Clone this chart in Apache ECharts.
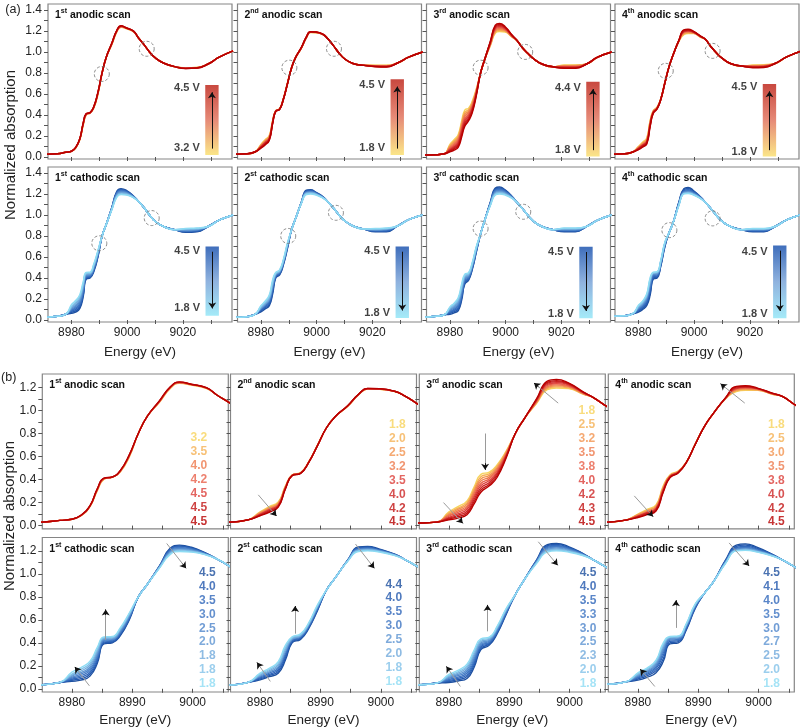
<!DOCTYPE html>
<html><head><meta charset="utf-8">
<script src="https://cdn.jsdelivr.net/npm/echarts@6/dist/echarts.min.js"></script>
<style>html,body{margin:0;padding:0;background:#fff}#c{width:800px;height:728px}</style>
</head><body><div id="c"></div>
<script>
// ---------------- DATA ----------------
const ENERGY = [8970, 8975, 8978, 8980, 8981.5, 8983, 8984.2, 8985.3, 8986.7, 8988, 8989.5, 8991, 8992.5, 8994.5, 8996.3, 8997.8, 8999.8, 9002.3, 9004, 9006, 9008, 9010, 9013, 9017, 9021, 9025, 9029, 9033, 9038];
// positions in ENERGY where all curves of a scan coincide / where they differ
const COMMON_IDX = [0, 1, 2, 11, 12, 18, 19, 20, 21, 22, 23, 26, 27, 28];
const VARY_IDX = [3, 4, 5, 6, 7, 8, 9, 10, 13, 14, 15, 16, 17, 24, 25];

// 1st anodic scan
const A1_VOLTS = ['3.2', '3.5', '4.0', '4.2', '4.5', '4.5', '4.5'];
const A1_COMMON = [0.025, 0.03, 0.045, 0.80, 0.95, 1.135, 1.07, 1.0, 0.945, 0.895, 0.86, 0.885, 0.95, 1.01];
const A1_CURVES = [
  [0.055, 0.085, 0.165, 0.300, 0.400, 0.420, 0.465, 0.595, 1.070, 1.190, 1.235, 1.220, 1.190, 0.848, 0.852],
  [0.055, 0.086, 0.167, 0.305, 0.403, 0.420, 0.468, 0.600, 1.073, 1.195, 1.238, 1.222, 1.192, 0.847, 0.851],
  [0.055, 0.087, 0.168, 0.310, 0.405, 0.420, 0.470, 0.605, 1.076, 1.198, 1.240, 1.224, 1.194, 0.846, 0.850],
  [0.055, 0.088, 0.170, 0.312, 0.407, 0.421, 0.472, 0.608, 1.078, 1.200, 1.242, 1.225, 1.195, 0.845, 0.849],
  [0.055, 0.088, 0.171, 0.315, 0.410, 0.422, 0.474, 0.610, 1.080, 1.202, 1.244, 1.226, 1.196, 0.844, 0.848],
  [0.055, 0.089, 0.172, 0.317, 0.411, 0.422, 0.476, 0.612, 1.082, 1.204, 1.246, 1.227, 1.197, 0.843, 0.847],
  [0.055, 0.090, 0.173, 0.320, 0.412, 0.423, 0.478, 0.615, 1.085, 1.206, 1.248, 1.228, 1.198, 0.842, 0.846]
];
// 2nd anodic scan
const A2_VOLTS = ['1.8', '2.0', '2.5', '3.2', '3.5', '4.0', '4.2', '4.5'];
const A2_COMMON = [0.025, 0.03, 0.05, 0.85, 0.95, 1.125, 1.06, 0.99, 0.935, 0.89, 0.872, 0.895, 0.95, 1.0];
const A2_CURVES = [
  [0.120, 0.165, 0.205, 0.345, 0.440, 0.460, 0.550, 0.700, 1.035, 1.135, 1.185, 1.183, 1.165, 0.873, 0.873],
  [0.115, 0.158, 0.198, 0.342, 0.439, 0.459, 0.549, 0.699, 1.036, 1.136, 1.186, 1.184, 1.165, 0.871, 0.871],
  [0.110, 0.152, 0.192, 0.338, 0.438, 0.458, 0.548, 0.698, 1.037, 1.137, 1.187, 1.185, 1.165, 0.869, 0.869],
  [0.104, 0.145, 0.185, 0.334, 0.437, 0.457, 0.547, 0.697, 1.038, 1.138, 1.188, 1.186, 1.166, 0.867, 0.866],
  [0.099, 0.138, 0.178, 0.330, 0.436, 0.456, 0.546, 0.696, 1.039, 1.139, 1.189, 1.187, 1.166, 0.865, 0.864],
  [0.094, 0.130, 0.171, 0.326, 0.435, 0.455, 0.545, 0.695, 1.040, 1.140, 1.190, 1.188, 1.166, 0.863, 0.861],
  [0.089, 0.122, 0.165, 0.322, 0.434, 0.454, 0.544, 0.694, 1.041, 1.141, 1.191, 1.189, 1.167, 0.861, 0.859],
  [0.085, 0.115, 0.160, 0.318, 0.433, 0.453, 0.543, 0.693, 1.042, 1.142, 1.192, 1.190, 1.167, 0.860, 0.856]
];
// 3rd anodic scan
const A3_VOLTS = ['1.8', '2.5', '3.2', '3.5', '3.8', '4.0', '4.2', '4.3', '4.5'];
const A3_COMMON = [0.02, 0.022, 0.03, 0.80, 0.93, 1.11, 1.04, 0.985, 0.935, 0.885, 0.858, 0.885, 0.95, 1.0];
const A3_CURVES = [
  [0.120, 0.165, 0.215, 0.340, 0.445, 0.465, 0.530, 0.650, 1.060, 1.180, 1.195, 1.190, 1.140, 0.875, 0.876],
  [0.110, 0.152, 0.200, 0.322, 0.425, 0.450, 0.517, 0.643, 1.065, 1.190, 1.205, 1.196, 1.142, 0.871, 0.872],
  [0.100, 0.140, 0.186, 0.305, 0.405, 0.436, 0.503, 0.635, 1.070, 1.199, 1.214, 1.203, 1.145, 0.868, 0.868],
  [0.090, 0.127, 0.171, 0.287, 0.386, 0.421, 0.490, 0.628, 1.075, 1.208, 1.223, 1.209, 1.147, 0.864, 0.864],
  [0.081, 0.114, 0.157, 0.268, 0.366, 0.406, 0.477, 0.620, 1.080, 1.217, 1.232, 1.215, 1.150, 0.860, 0.860],
  [0.072, 0.101, 0.142, 0.250, 0.347, 0.391, 0.463, 0.613, 1.085, 1.226, 1.241, 1.222, 1.152, 0.856, 0.856],
  [0.064, 0.089, 0.125, 0.230, 0.327, 0.375, 0.449, 0.606, 1.090, 1.236, 1.251, 1.229, 1.155, 0.852, 0.852],
  [0.057, 0.077, 0.110, 0.210, 0.308, 0.360, 0.435, 0.598, 1.095, 1.245, 1.260, 1.235, 1.157, 0.848, 0.848],
  [0.050, 0.065, 0.095, 0.190, 0.290, 0.345, 0.420, 0.590, 1.100, 1.255, 1.270, 1.240, 1.160, 0.845, 0.845]
];
// 4th anodic scan
const A4_VOLTS = ['1.8', '2.5', '3.0', '3.5', '3.8', '4.0', '4.2', '4.5'];
const A4_COMMON = [0.025, 0.03, 0.048, 0.86, 0.975, 1.12, 1.05, 0.99, 0.94, 0.89, 0.865, 0.89, 0.95, 1.005];
const A4_CURVES = [
  [0.100, 0.140, 0.180, 0.345, 0.440, 0.475, 0.550, 0.710, 1.100, 1.165, 1.175, 1.175, 1.140, 0.875, 0.878],
  [0.096, 0.133, 0.172, 0.337, 0.436, 0.473, 0.549, 0.709, 1.101, 1.171, 1.181, 1.178, 1.141, 0.871, 0.874],
  [0.092, 0.127, 0.164, 0.329, 0.433, 0.470, 0.549, 0.709, 1.103, 1.178, 1.186, 1.181, 1.143, 0.868, 0.871],
  [0.088, 0.120, 0.156, 0.321, 0.429, 0.468, 0.548, 0.708, 1.104, 1.184, 1.192, 1.184, 1.144, 0.864, 0.867],
  [0.083, 0.114, 0.149, 0.313, 0.426, 0.465, 0.547, 0.707, 1.106, 1.191, 1.198, 1.187, 1.146, 0.861, 0.863],
  [0.079, 0.108, 0.141, 0.305, 0.422, 0.463, 0.547, 0.707, 1.107, 1.197, 1.203, 1.190, 1.147, 0.857, 0.860],
  [0.074, 0.101, 0.133, 0.297, 0.419, 0.460, 0.546, 0.706, 1.109, 1.204, 1.209, 1.192, 1.149, 0.854, 0.856],
  [0.070, 0.095, 0.125, 0.290, 0.415, 0.458, 0.545, 0.705, 1.110, 1.210, 1.215, 1.195, 1.150, 0.850, 0.852]
];
// 1st cathodic scan
const C1_VOLTS = ['4.5', '4.0', '3.5', '3.0', '2.5', '2.0', '1.8', '1.8', '1.8'];
const C1_COMMON = [0.025, 0.035, 0.055, 0.80, 0.91, 1.13, 1.07, 1.0, 0.94, 0.89, 0.86, 0.89, 0.95, 1.0];
const C1_CURVES = [
  [0.065, 0.075, 0.110, 0.220, 0.390, 0.400, 0.460, 0.600, 1.070, 1.225, 1.250, 1.232, 1.178, 0.835, 0.840],
  [0.074, 0.088, 0.126, 0.237, 0.398, 0.407, 0.469, 0.607, 1.068, 1.218, 1.243, 1.227, 1.176, 0.839, 0.844],
  [0.083, 0.101, 0.142, 0.255, 0.406, 0.414, 0.478, 0.615, 1.065, 1.212, 1.237, 1.222, 1.174, 0.844, 0.849],
  [0.092, 0.115, 0.158, 0.272, 0.414, 0.421, 0.486, 0.622, 1.063, 1.205, 1.230, 1.217, 1.172, 0.848, 0.853],
  [0.101, 0.128, 0.174, 0.290, 0.421, 0.428, 0.495, 0.630, 1.061, 1.198, 1.223, 1.212, 1.171, 0.852, 0.857],
  [0.110, 0.141, 0.190, 0.307, 0.429, 0.434, 0.504, 0.637, 1.059, 1.191, 1.216, 1.206, 1.169, 0.857, 0.862],
  [0.119, 0.155, 0.207, 0.325, 0.437, 0.441, 0.512, 0.645, 1.056, 1.184, 1.209, 1.201, 1.167, 0.861, 0.866],
  [0.128, 0.170, 0.223, 0.342, 0.445, 0.448, 0.521, 0.652, 1.053, 1.177, 1.202, 1.195, 1.165, 0.866, 0.871],
  [0.145, 0.185, 0.240, 0.360, 0.452, 0.455, 0.530, 0.660, 1.050, 1.170, 1.195, 1.190, 1.163, 0.870, 0.875]
];
// 2nd cathodic scan (labelled "2st" in the source figure)
const C2_VOLTS = ['4.4', '4.0', '3.5', '3.0', '2.5', '2.0', '1.8', '1.8'];
const C2_COMMON = [0.025, 0.032, 0.056, 0.86, 0.97, 1.125, 1.065, 1.0, 0.945, 0.895, 0.865, 0.895, 0.955, 1.0];
const C2_CURVES = [
  [0.078, 0.105, 0.136, 0.250, 0.400, 0.430, 0.520, 0.680, 1.120, 1.235, 1.240, 1.215, 1.172, 0.840, 0.840],
  [0.086, 0.115, 0.150, 0.269, 0.407, 0.437, 0.527, 0.687, 1.119, 1.229, 1.234, 1.211, 1.170, 0.844, 0.845],
  [0.094, 0.125, 0.165, 0.287, 0.415, 0.444, 0.534, 0.694, 1.117, 1.224, 1.229, 1.208, 1.168, 0.848, 0.850],
  [0.103, 0.136, 0.179, 0.306, 0.422, 0.450, 0.541, 0.701, 1.116, 1.218, 1.223, 1.204, 1.167, 0.853, 0.856],
  [0.111, 0.146, 0.193, 0.324, 0.430, 0.457, 0.549, 0.709, 1.114, 1.212, 1.217, 1.201, 1.165, 0.857, 0.861],
  [0.119, 0.157, 0.208, 0.343, 0.437, 0.464, 0.556, 0.716, 1.113, 1.207, 1.212, 1.197, 1.163, 0.861, 0.866],
  [0.128, 0.168, 0.222, 0.361, 0.445, 0.471, 0.563, 0.723, 1.111, 1.201, 1.206, 1.194, 1.162, 0.866, 0.870],
  [0.136, 0.178, 0.237, 0.380, 0.452, 0.478, 0.570, 0.730, 1.110, 1.195, 1.200, 1.190, 1.160, 0.870, 0.875]
];
// 3rd cathodic scan
const C3_VOLTS = ['4.5', '4.0', '3.5', '3.3', '3.0', '2.5', '2.3', '2.0', '1.8'];
const C3_COMMON = [0.025, 0.035, 0.05, 0.82, 0.95, 1.12, 1.06, 0.995, 0.94, 0.89, 0.86, 0.89, 0.95, 1.0];
const C3_CURVES = [
  [0.055, 0.068, 0.090, 0.190, 0.340, 0.380, 0.480, 0.650, 1.120, 1.255, 1.265, 1.238, 1.175, 0.840, 0.840],
  [0.064, 0.079, 0.106, 0.209, 0.352, 0.389, 0.488, 0.656, 1.116, 1.247, 1.257, 1.232, 1.173, 0.844, 0.844],
  [0.072, 0.091, 0.121, 0.228, 0.364, 0.397, 0.496, 0.663, 1.113, 1.239, 1.249, 1.226, 1.171, 0.849, 0.849],
  [0.081, 0.102, 0.137, 0.246, 0.376, 0.406, 0.505, 0.669, 1.109, 1.231, 1.241, 1.220, 1.169, 0.853, 0.853],
  [0.090, 0.114, 0.152, 0.265, 0.388, 0.415, 0.513, 0.675, 1.105, 1.223, 1.233, 1.214, 1.167, 0.858, 0.858],
  [0.099, 0.125, 0.168, 0.284, 0.399, 0.424, 0.521, 0.681, 1.101, 1.214, 1.224, 1.208, 1.164, 0.862, 0.862],
  [0.108, 0.137, 0.184, 0.302, 0.411, 0.432, 0.529, 0.688, 1.098, 1.206, 1.216, 1.202, 1.162, 0.866, 0.866],
  [0.116, 0.148, 0.199, 0.321, 0.423, 0.441, 0.537, 0.694, 1.094, 1.198, 1.208, 1.196, 1.160, 0.871, 0.871],
  [0.125, 0.160, 0.215, 0.340, 0.435, 0.450, 0.545, 0.700, 1.090, 1.190, 1.200, 1.190, 1.158, 0.875, 0.875]
];
// 4th cathodic scan
const C4_VOLTS = ['4.5', '4.1', '4.0', '3.5', '3.0', '2.7', '2.5', '2.0', '1.8'];
const C4_COMMON = [0.035, 0.04, 0.06, 0.83, 0.93, 1.12, 1.06, 0.995, 0.94, 0.89, 0.86, 0.89, 0.95, 1.0];
const C4_CURVES = [
  [0.075, 0.100, 0.140, 0.237, 0.390, 0.400, 0.510, 0.700, 1.120, 1.250, 1.262, 1.230, 1.170, 0.840, 0.840],
  [0.085, 0.113, 0.158, 0.262, 0.400, 0.410, 0.518, 0.706, 1.115, 1.240, 1.252, 1.223, 1.168, 0.845, 0.845],
  [0.094, 0.125, 0.175, 0.290, 0.412, 0.420, 0.527, 0.712, 1.110, 1.230, 1.240, 1.216, 1.166, 0.850, 0.850],
  [0.102, 0.135, 0.190, 0.313, 0.423, 0.429, 0.535, 0.718, 1.106, 1.222, 1.231, 1.210, 1.164, 0.854, 0.854],
  [0.110, 0.145, 0.203, 0.333, 0.432, 0.437, 0.542, 0.723, 1.102, 1.216, 1.224, 1.205, 1.162, 0.858, 0.858],
  [0.117, 0.153, 0.215, 0.352, 0.439, 0.443, 0.548, 0.728, 1.099, 1.211, 1.218, 1.201, 1.160, 0.861, 0.861],
  [0.124, 0.162, 0.227, 0.369, 0.445, 0.449, 0.554, 0.732, 1.096, 1.207, 1.213, 1.197, 1.158, 0.864, 0.864],
  [0.132, 0.171, 0.238, 0.385, 0.450, 0.455, 0.560, 0.736, 1.093, 1.203, 1.209, 1.193, 1.157, 0.867, 0.867],
  [0.140, 0.180, 0.250, 0.400, 0.455, 0.460, 0.565, 0.740, 1.090, 1.200, 1.205, 1.190, 1.155, 0.870, 0.870]
];

// tick labels
const XLABELS_A = [8980, 9000, 9020];
const XTICKS_A = [8980, 8990, 9000, 9010, 9020, 9030];
const YLABELS_A = [0, 0.2, 0.4, 0.6, 0.8, 1.0, 1.2, 1.4];
const YTICKS_A = [0, 0.1, 0.2, 0.3, 0.4, 0.5, 0.6, 0.7, 0.8, 0.9, 1.0, 1.1, 1.2, 1.3, 1.4];
const XLABELS_B = [8980, 8990, 9000];
const XTICKS_B = [8980, 8985, 8990, 8995, 9000, 9005];
const YLABELS_B = [0, 0.2, 0.4, 0.6, 0.8, 1.0, 1.2];
const YTICKS_B = [0, 0.1, 0.2, 0.3, 0.4, 0.5, 0.6, 0.7, 0.8, 0.9, 1.0, 1.1, 1.2];

// ---------------- TEXT / LAYOUT / STYLE ----------------
const PANELS = ['A1', 'A2', 'A3', 'A4', 'C1', 'C2', 'C3', 'C4'];
const DATA = {
  A1: [A1_COMMON, A1_CURVES, A1_VOLTS], A2: [A2_COMMON, A2_CURVES, A2_VOLTS],
  A3: [A3_COMMON, A3_CURVES, A3_VOLTS], A4: [A4_COMMON, A4_CURVES, A4_VOLTS],
  C1: [C1_COMMON, C1_CURVES, C1_VOLTS], C2: [C2_COMMON, C2_CURVES, C2_VOLTS],
  C3: [C3_COMMON, C3_CURVES, C3_VOLTS], C4: [C4_COMMON, C4_CURVES, C4_VOLTS]
};
const TITLES = {
  A1: ['1', 'st', 'anodic'], A2: ['2', 'nd', 'anodic'], A3: ['3', 'rd', 'anodic'], A4: ['4', 'th', 'anodic'],
  C1: ['1', 'st', 'cathodic'], C2: ['2', 'st', 'cathodic'], C3: ['3', 'rd', 'cathodic'], C4: ['4', 'th', 'cathodic']
};
const BAR_TEXT = {
  A1: ['4.5 V', '3.2 V'], A2: ['4.5 V', '1.8 V'], A3: ['4.4 V', '1.8 V'], A4: ['4.5 V', '1.8 V'],
  C1: ['4.5 V', '1.8 V'], C2: ['4.5 V', '1.8 V'], C3: ['4.5 V', '1.8 V'], C4: ['4.5 V', '1.8 V']
};
// colour bar: [centre energy, bottom, top, top-label y, bottom-label y]
const BAR_POS = {
  A1: [9030.4, 0.02, 0.686, 0.657, 0.083], A2: [9028.9, 0.02, 0.74, 0.686, 0.083],
  A3: [9031.3, 0.005, 0.717, 0.654, 0.067], A4: [9027.0, 0.005, 0.695, 0.67, 0.05],
  C1: [9030.5, 0.04, 0.70, 0.66, 0.11], C2: [9030.7, 0.02, 0.70, 0.66, 0.07],
  C3: [9028.8, 0.016, 0.697, 0.65, 0.057], C4: [9030.7, 0.016, 0.71, 0.65, 0.057]
};
const CIRCLE_POS = {
  A1: [[8990.9, 0.79], [9007.0, 1.03]], A2: [[8990.2, 0.85], [9006.2, 1.03]],
  A3: [[8991.0, 0.85], [9007.0, 1.0]], A4: [[8989.8, 0.82], [9006.6, 1.01]],
  C1: [[8990.0, 0.73], [9008.8, 0.97]], C2: [[8989.8, 0.80], [9006.9, 1.02]],
  C3: [[8991.0, 0.87], [9006.3, 1.03]], C4: [[8991.1, 0.855], [9006.6, 0.967]]
};
const ARROW_POS = {
  A1: [],
  A2: [[[8979.7, 0.267], [8982.7, 0.084]]],
  A3: [[[8979.1, 0.20], [8982.3, 0.02]], [[8986.0, 0.80], [8986.0, 0.485]], [[8998.1, 1.064], [8994.1, 1.238]]],
  A4: [[[8979.4, 0.258], [8982.5, 0.078]], [[8997.7, 1.064], [8993.7, 1.232]]],
  C1: [[[8982.9, 0.026], [8980.5, 0.19]], [[8985.6, 0.425], [8985.6, 0.69]], [[8995.7, 1.265], [8998.9, 1.05]]],
  C2: [[[8981.7, 0.064], [8979.5, 0.228]], [[8985.8, 0.48], [8985.8, 0.72]], [[8995.8, 1.26], [8998.9, 1.05]]],
  C3: [[[8981.9, 0.02], [8979.6, 0.194]], [[8986.4, 0.50], [8986.4, 0.73]], [[8994.8, 1.28], [8998.0, 1.076]]],
  C4: [[[8982.8, 0.02], [8980.4, 0.17]], [[8986.3, 0.53], [8986.3, 0.77]], [[8995.1, 1.27], [8998.4, 1.07]]]
};
// voltage list in (b): [right edge energy, y of lowest label]
const LIST_POS = {
  A1: [9002.5, 0.035], A2: [9004.2, 0.03], A3: [9004.3, 0.03], A4: [9004.4, 0.03],
  C1: [9003.9, 0.043], C2: [9003.6, 0.063], C3: [9004.5, 0.043], C4: [9003.6, 0.043]
};
const LIST_STEP = 0.121;

const GA = { lefts: [48, 237.5, 426.5, 615], width: 184, tops: [4, 167], height: 155, xMin: 8971.6, xMax: 9037.6, yMin: -0.019, yMax: 1.456, lineW: 1.5 };
const GB = { lefts: [42.3, 230.5, 419.3, 608.3], width: 186, tops: [374, 537.5], height: 154.8, xMin: 8975.1, xMax: 9005.9, yMin: -0.028, yMax: 1.317, lineW: 1.35 };

const FONT = "'Liberation Sans', Arial, Helvetica, sans-serif";
const AN_PAL = ['#f7d35c', '#f5b155', '#f2934f', '#ee7a4d', '#e8604a', '#dc3f3a', '#cd2727', '#c21414', '#b80000'];
const CA_PAL = ['#1d4f9e', '#2459ae', '#2f66ba', '#3d74c2', '#4d84ca', '#5e95d2', '#72aadc', '#82c2e8', '#8edcf4'];
const AN_BAR = ['#c4392f', '#e4806c', '#fbe47e'];
const CA_BAR = ['#2f62b6', '#86acdc', '#9de9f8'];

function buildCurve(common, vary) {
  const y = [];
  COMMON_IDX.forEach((k, j) => { y[k] = common[j]; });
  VARY_IDX.forEach((k, j) => { y[k] = vary[j]; });
  return ENERGY.map((e, i) => [e, y[i]]);
}
function curveColor(kind, i, n) {
  const pal = kind === 'A' ? AN_PAL : CA_PAL;
  return pal[Math.round(i * (pal.length - 1) / (n - 1))];
}

const option = { animation: false, grid: [], xAxis: [], yAxis: [], series: [], title: [], graphic: [] };

[0, 1].forEach(s => {
  const G = s === 0 ? GA : GB;
  PANELS.forEach((id, p) => {
    const row = p < 4 ? 0 : 1, col = p % 4, g = s * 8 + p;
    const kind = id[0];
    const left = G.lefts[col], top = G.tops[row];
    option.grid.push({ left: left, top: top, width: G.width, height: G.height, show: true, borderColor: '#858585', borderWidth: 1.2 });
    option.xAxis.push({
      gridIndex: g, type: 'value', min: G.xMin, max: G.xMax,
      axisLine: { show: false }, splitLine: { show: false },
      axisTick: { show: true, inside: false, length: 4, customValues: s === 0 ? XTICKS_A : XTICKS_B, lineStyle: { color: '#555' } },
      axisLabel: { show: row === 1, customValues: s === 0 ? XLABELS_A : XLABELS_B, margin: 5, fontSize: 12, color: '#222', fontFamily: FONT, formatter: v => v.toFixed(0) },
      name: row === 1 ? 'Energy (eV)' : '', nameLocation: 'middle', nameGap: s === 0 ? 23 : 21,
      nameTextStyle: { fontSize: 13.5, color: '#222', fontFamily: FONT }
    });
    option.yAxis.push({
      gridIndex: g, type: 'value', min: G.yMin, max: G.yMax,
      axisLine: { show: false }, splitLine: { show: false },
      axisTick: { show: true, inside: false, length: 4, customValues: s === 0 ? YTICKS_A : YTICKS_B, lineStyle: { color: '#555' } },
      axisLabel: { show: col === 0, customValues: s === 0 ? YLABELS_A : YLABELS_B, margin: 6, fontSize: 12, color: '#222', fontFamily: FONT, formatter: v => v.toFixed(1) }
    });
    const t = TITLES[id];
    option.title.push({
      text: '{n|' + t[0] + '}{s|' + t[1] + '}{n| ' + t[2] + ' scan}',
      left: left + 7, top: top + 4, padding: 0,
      textStyle: { rich: {
        n: { fontSize: 10.5, fontWeight: 'bold', fontFamily: FONT, color: '#111', lineHeight: 13, verticalAlign: 'bottom' },
        s: { fontSize: 7, fontWeight: 'bold', fontFamily: FONT, color: '#111', lineHeight: 8, verticalAlign: 'top' }
      } }
    });
    const [common, curves, volts] = DATA[id];
    const n = curves.length;
    curves.forEach((c, i) => {
      option.series.push({
        type: 'line', xAxisIndex: g, yAxisIndex: g, data: buildCurve(common, c),
        showSymbol: false, symbol: 'none', smooth: 0.5, silent: true, z: 2,
        lineStyle: { width: G.lineW, color: curveColor(kind, i, n) }
      });
    });
    if (s === 0) {
      const b = BAR_POS[id];
      const pal = kind === 'A' ? AN_BAR : CA_BAR;
      const grad = new echarts.graphic.LinearGradient(0, 0, 0, 1, [
        { offset: 0, color: pal[0] }, { offset: 0.5, color: pal[1] }, { offset: 1, color: pal[2] }]);
      option.series.push({
        type: 'scatter', xAxisIndex: g, yAxisIndex: g, data: CIRCLE_POS[id], silent: true, z: 5,
        symbol: 'circle', symbolSize: 15,
        itemStyle: { color: 'rgba(0,0,0,0)', borderColor: '#707070', borderWidth: 1, borderType: [3, 2] },
        markArea: { silent: true, data: [[{ coord: [b[0] - 2.4, b[1]], itemStyle: { color: grad, opacity: 0.92 } }, { coord: [b[0] + 2.4, b[2]] }]] }
      });
      const up = kind === 'A';
      option.series.push({
        type: 'scatter', xAxisIndex: g, yAxisIndex: g, silent: true, z: 6, symbolSize: 1,
        itemStyle: { color: 'rgba(0,0,0,0)' },
        data: [{ name: BAR_TEXT[id][0], value: [b[0] - 4.2, b[3]] }, { name: BAR_TEXT[id][1], value: [b[0] - 4.2, b[4]] }],
        label: { show: true, position: 'left', distance: 0, formatter: '{b}', fontSize: 11, fontWeight: 'bold', color: '#111', fontFamily: FONT },
        markLine: {
          silent: true, symbol: ['none', 'arrow'], symbolSize: 6, label: { show: false },
          lineStyle: { color: '#111', width: 1, type: 'solid' },
          data: [[{ coord: [b[0], up ? b[1] + 0.06 : b[2] - 0.05] }, { coord: [b[0], up ? b[2] - 0.07 : b[1] + 0.07] }]]
        }
      });
    } else {
      const lp = LIST_POS[id];
      option.series.push({
        type: 'scatter', xAxisIndex: g, yAxisIndex: g, silent: true, z: 6, symbolSize: 1,
        itemStyle: { color: 'rgba(0,0,0,0)' },
        data: volts.map((v, k) => ({ name: v, value: [lp[0], lp[1] + (n - 1 - k) * LIST_STEP], label: { color: curveColor(kind, k, n) } })),
        label: { show: true, position: 'left', distance: 0, formatter: '{b}', fontSize: 12, fontWeight: 'bold', fontFamily: FONT },
        markLine: {
          silent: true, symbol: ['none', 'none'], label: { show: false },
          lineStyle: { color: '#9a9a9a', width: 1, type: 'solid' },
          data: ARROW_POS[id].map(a => [{ coord: a[0] }, { coord: a[1] }])
        }
      });
      if (ARROW_POS[id].length) {
        option.series.push({
          type: 'scatter', xAxisIndex: g, yAxisIndex: g, silent: true, z: 7, symbolSize: 0,
          data: ARROW_POS[id].map(a => a[0]),
          markLine: {
            silent: true, symbol: ['none', 'arrow'], symbolSize: 6, label: { show: false },
            lineStyle: { color: '#111', width: 1, type: 'solid' },
            data: ARROW_POS[id].map(a => [
              { coord: [a[1][0] - 0.18 * (a[1][0] - a[0][0]), a[1][1] - 0.18 * (a[1][1] - a[0][1])] },
              { coord: a[1] }])
          }
        });
      }
    }
  });
});

option.graphic = [
  { type: 'text', x: 13, y: 9.5, style: { text: '(a)', fontSize: 12.5, fontFamily: FONT, fill: '#222', align: 'center', verticalAlign: 'middle' } },
  { type: 'text', x: 8.7, y: 378, style: { text: '(b)', fontSize: 12.5, fontFamily: FONT, fill: '#222', align: 'center', verticalAlign: 'middle' } },
  { type: 'text', x: 11, y: 145, rotation: Math.PI / 2, style: { text: 'Normalized absorption', fontSize: 15, fontFamily: FONT, fill: '#222', align: 'center', verticalAlign: 'middle' } },
  { type: 'text', x: 10, y: 516, rotation: Math.PI / 2, style: { text: 'Normalized absorption', fontSize: 15, fontFamily: FONT, fill: '#222', align: 'center', verticalAlign: 'middle' } }
];

const chart = echarts.init(document.getElementById('c'), null, { renderer: 'canvas' });
chart.setOption(option);
</script>
</body></html>
